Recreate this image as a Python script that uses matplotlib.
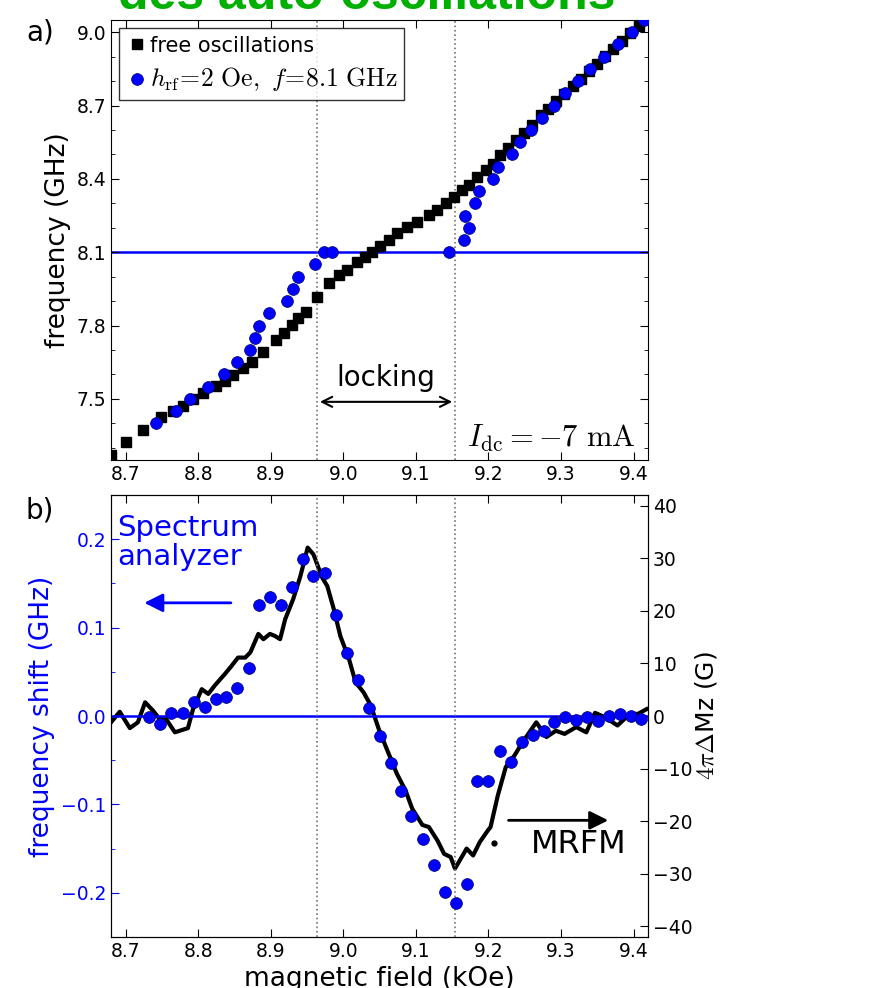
import matplotlib
matplotlib.use("Agg")
import matplotlib.pyplot as plt

plt.rcParams['mathtext.fontset'] = 'cm'
plt.rcParams['xtick.direction'] = 'in'
plt.rcParams['ytick.direction'] = 'in'

# panel a: free oscillations (black squares)
free_field = [8.680, 8.701, 8.724, 8.749, 8.765, 8.779, 8.793, 8.807, 8.825, 8.837, 8.848,
              8.862, 8.874, 8.890, 8.908, 8.918, 8.929, 8.938, 8.948, 8.964, 8.981, 8.994,
              9.005, 9.019, 9.030, 9.040, 9.051, 9.063, 9.074, 9.088, 9.101, 9.118, 9.129,
              9.141, 9.153, 9.164, 9.173, 9.185, 9.197, 9.206, 9.216, 9.227, 9.238, 9.249,
              9.260, 9.273, 9.282, 9.293, 9.304, 9.316, 9.327, 9.338, 9.349, 9.361, 9.372,
              9.384, 9.395, 9.407, 9.418]
free_freq = [7.271, 7.323, 7.374, 7.428, 7.450, 7.472, 7.500, 7.525, 7.551, 7.575, 7.598,
             7.625, 7.653, 7.693, 7.741, 7.770, 7.803, 7.830, 7.857, 7.918, 7.975, 8.007,
             8.027, 8.061, 8.082, 8.102, 8.125, 8.150, 8.177, 8.204, 8.225, 8.252, 8.273,
             8.300, 8.327, 8.354, 8.375, 8.409, 8.436, 8.463, 8.497, 8.525, 8.559, 8.586,
             8.620, 8.661, 8.688, 8.718, 8.748, 8.780, 8.810, 8.840, 8.870, 8.902, 8.932,
             8.964, 8.995, 9.027, 9.057]

# panel a: driven (blue circles)
rf_field = [8.742, 8.769, 8.789, 8.814, 8.836, 8.854, 8.871, 8.878, 8.884, 8.898, 8.923,
            8.931, 8.937, 8.961, 8.974, 8.985, 9.146, 9.166, 9.173, 9.168, 9.182, 9.187,
            9.206, 9.213, 9.233, 9.244, 9.259, 9.274, 9.290, 9.306, 9.323, 9.340, 9.359,
            9.378, 9.398, 9.415]
rf_freq = [7.40, 7.45, 7.50, 7.55, 7.60, 7.65, 7.70, 7.75, 7.80, 7.85, 7.90,
           7.95, 8.00, 8.05, 8.10, 8.10, 8.10, 8.15, 8.20, 8.25, 8.30, 8.35,
           8.40, 8.45, 8.50, 8.55, 8.60, 8.65, 8.70, 8.75, 8.80, 8.85, 8.90,
           8.95, 9.00, 9.05]

f_drive = 8.1
lock_edges = [8.964, 9.154]

# panel b: spectrum analyzer frequency shift (GHz)
shift_field = [8.732, 8.748, 8.763, 8.779, 8.794, 8.809, 8.825, 8.839, 8.854, 8.870, 8.884,
               8.899, 8.914, 8.929, 8.944, 8.959, 8.975, 8.990, 9.005, 9.020, 9.035, 9.051,
               9.066, 9.079, 9.094, 9.110, 9.125, 9.140, 9.156, 9.171, 9.185, 9.200, 9.216,
               9.231, 9.246, 9.261, 9.276, 9.291, 9.306, 9.321, 9.336, 9.351, 9.366, 9.381,
               9.396, 9.411]
shift_val = [-0.001, -0.009, 0.003, 0.003, 0.016, 0.010, 0.019, 0.022, 0.032, 0.054, 0.126,
             0.135, 0.125, 0.146, 0.178, 0.158, 0.162, 0.114, 0.071, 0.041, 0.009, -0.023,
             -0.053, -0.085, -0.113, -0.139, -0.169, -0.199, -0.212, -0.190, -0.074, -0.074, -0.040,
             -0.052, -0.029, -0.022, -0.017, -0.007, -0.001, -0.005, -0.001, -0.006, 0.000, 0.002,
             0.000, -0.003]

# panel b: MRFM 4*pi*dMz (G)
mrfm_field = [8.680, 8.692, 8.706, 8.717, 8.727, 8.738, 8.747, 8.756, 8.768, 8.786, 8.793,
              8.805, 8.814, 8.823, 8.837, 8.846, 8.855, 8.865, 8.872, 8.883, 8.890, 8.899,
              8.906, 8.913, 8.920, 8.931, 8.941, 8.951, 8.959, 8.971, 8.978, 8.987, 8.996,
              9.008, 9.017, 9.028, 9.038, 9.049, 9.058, 9.074, 9.086, 9.095, 9.109, 9.118,
              9.130, 9.139, 9.148, 9.154, 9.162, 9.170, 9.179, 9.188, 9.199, 9.203, 9.213,
              9.224, 9.236, 9.247, 9.266, 9.280, 9.293, 9.305, 9.321, 9.335, 9.347, 9.360,
              9.378, 9.395, 9.406, 9.418]
mrfm_val = [-1.2, 0.8, -2.3, -1.2, 2.6, 1.0, -0.6, -0.6, -3.1, -2.3, 1.3,
            5.1, 4.2, 5.8, 8.0, 9.5, 11.1, 11.1, 12.1, 15.6, 14.6, 15.6,
            15.2, 14.6, 18.4, 22.2, 26.6, 32.0, 30.7, 26.3, 24.7, 20.3, 15.2,
            10.8, 6.4, 4.5, 2.0, -2.5, -5.6, -11.0, -14.2, -17.6, -20.7, -21.1,
            -23.7, -26.2, -26.8, -29.0, -27.1, -25.2, -26.5, -24.0, -21.8, -21.1, -15.1,
            -9.7, -7.5, -5.0, -1.2, -4.0, -2.8, -3.4, -2.1, -3.1, 0.6, -0.2,
            -1.8, 0.4, 0.4, 1.3]
stray_dot = (9.208, -0.144)

x_ticks = [8.7, 8.8, 8.9, 9.0, 9.1, 9.2, 9.3, 9.4]

fig = plt.figure(figsize=(8.91, 9.88), dpi=100)
ax1 = fig.add_axes([0.1246, 0.5344, 0.6027, 0.4453])
ax2 = fig.add_axes([0.1246, 0.0516, 0.6027, 0.4474])

# --- panel a ---
ax1.axhline(f_drive, color='b', lw=1.8, zorder=1)
for xv in lock_edges:
    ax1.axvline(xv, color='0.45', ls=':', lw=1.2, zorder=1)
ax1.plot(free_field, free_freq, 's', color='k', ms=6.5, mec='k', label='free oscillations', zorder=3)
ax1.plot(rf_field, rf_freq, 'o', color='b', ms=8.5, mec='#000060', mew=0.5,
         label=r'$h_{\rm rf}\!=\!2\ {\rm Oe},\ f\!=\!8.1\ {\rm GHz}$', zorder=4)
ax1.set_xlim(8.68, 9.42)
ax1.set_ylim(7.25, 9.05)
ax1.set_xticks(x_ticks)
ax1.set_yticks([7.5, 7.8, 8.1, 8.4, 8.7, 9.0])
ax1.set_yticks([7.3, 7.4, 7.6, 7.7, 7.9, 8.0, 8.2, 8.3, 8.5, 8.6, 8.8, 8.9], minor=True)
ax1.tick_params(which='both', top=True, right=True, labelsize=13.5)
ax1.tick_params(which='major', length=6)
ax1.tick_params(which='minor', length=3)
ax1.set_ylabel('frequency (GHz)', fontsize=19)
leg = ax1.legend(loc='upper left', numpoints=1, fontsize=15, fancybox=False,
                 handletextpad=0.1, borderaxespad=0.4, borderpad=0.35, labelspacing=0.45,
                 handlelength=1.0)
leg.get_frame().set_edgecolor('k')
leg.get_texts()[1].set_fontsize(18.5)
ax1.annotate('', xy=(lock_edges[0], 7.488), xytext=(lock_edges[1], 7.488),
             arrowprops=dict(arrowstyle='<->', color='k', lw=1.5, mutation_scale=18))
ax1.text(9.058, 7.586, 'locking', fontsize=20, ha='center', va='center')
ax1.text(9.403, 7.304, r'$I_{\rm dc}=-7\ {\rm mA}$', fontsize=22, ha='right', va='baseline')

# --- panel b ---
ax3 = ax2.twinx()
ax2.axhline(0.0, color='b', lw=1.8, zorder=1)
for xv in lock_edges:
    ax2.axvline(xv, color='0.45', ls=':', lw=1.2, zorder=1)
ax2.plot(shift_field, shift_val, 'o', color='b', ms=8.5, mec='#000060', mew=0.5, zorder=4)
ax3.plot(mrfm_field, mrfm_val, '-', color='k', lw=3, zorder=5)
ax3.plot([stray_dot[0]], [stray_dot[1] * 42 / 0.25], 'o', color='k', ms=3.5)
ax2.set_xlim(8.68, 9.42)
ax2.set_ylim(-0.25, 0.25)
ax3.set_ylim(-42, 42)
ax2.set_xticks(x_ticks)
ax2.set_yticks([-0.2, -0.1, 0.0, 0.1, 0.2])
ax2.set_yticks([-0.15, -0.05, 0.05, 0.15], minor=True)
ax3.set_yticks([-40, -30, -20, -10, 0, 10, 20, 30, 40])
ax2.tick_params(which='both', top=True, labelsize=13.5)
ax2.tick_params(axis='y', colors='b', which='both')
ax2.tick_params(which='major', length=6)
ax2.tick_params(which='minor', length=3)
ax3.tick_params(labelsize=13.5, length=6)
ax2.set_ylabel('frequency shift (GHz)', fontsize=19, color='b')
ax3.set_ylabel(r'$4\pi\Delta$Mz (G)', fontsize=18, labelpad=0)
ax2.set_xlabel('magnetic field (kOe)', fontsize=19)
ax2.set_zorder(ax3.get_zorder() + 1)
ax2.patch.set_visible(False)

ax2.text(8.688, 0.196, 'Spectrum\nanalyzer', fontsize=21, color='b', ha='left', va='center',
         linespacing=1.05)
ax2.annotate('', xy=(8.722, 0.128), xytext=(8.849, 0.128),
             arrowprops=dict(arrowstyle='-|>', color='b', lw=2, mutation_scale=28))
ax2.annotate('', xy=(9.369, -0.118), xytext=(9.224, -0.118),
             arrowprops=dict(arrowstyle='-|>', color='k', lw=2, mutation_scale=28))
ax2.text(9.325, -0.145, 'MRFM', fontsize=23, ha='center', va='center')

fig.text(0.045, 1 - 32 / 988, 'a)', fontsize=20, ha='center', va='center')
fig.text(0.045, 1 - 510 / 988, 'b)', fontsize=20, ha='center', va='center')
fig.text(0.411, 1 - 9 / 988, 'des auto-oscillations', fontsize=36, fontweight='bold',
         color='#00b000', family='Liberation Sans', ha='center', va='baseline')

fig.savefig('out.png', dpi=100)
